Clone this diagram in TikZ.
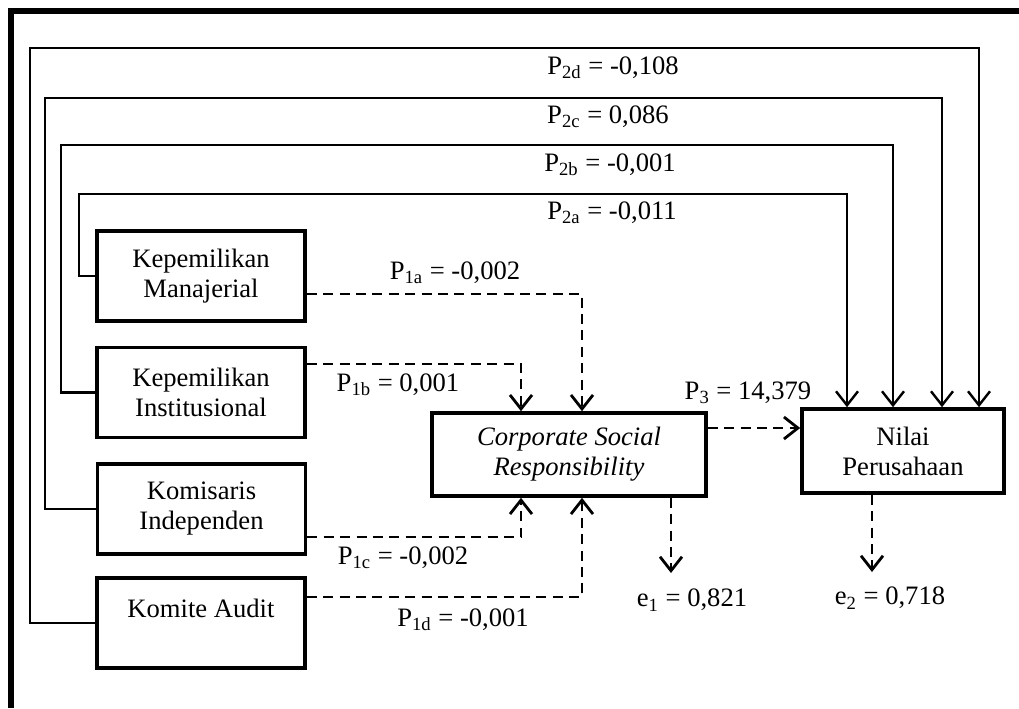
\documentclass[tikz,border=0pt]{standalone}
\usepackage{fontspec}
\setmainfont{Liberation Serif}
\usepackage{tikz}
\usetikzlibrary{calc}
\usetikzlibrary{arrows.meta}

\begin{document}
\begin{tikzpicture}[x=0.5pt, y=-0.5pt,
        every node/.style={font=\fontsize{13.3}{15}\selectfont},
        var/.style={draw, line width=1.8pt, align=center, inner sep=0pt,
            minimum width=104pt, minimum height=45pt},
        lbl/.style={inner sep=0pt},
        direct/.style={line width=1.2pt, -{Straight Barb[length=7pt, width=11pt]}},
        indirect/.style={direct, line width=1.4pt, dash pattern=on 5pt off 3.2pt}]

        \useasboundingbox (0,0) rectangle (1019,708);
        \draw[line width=2.6pt] (11,708) -- (11,11) -- (1019,11);

        \node[var] (km)   at (201,276) {Kepemilikan\\Manajerial};
        \node[var] (ki)   at (201,392.5) {Kepemilikan\\Institusional};
        \node[var] (kind) at (201.5,509) {Komisaris\\Independen};
        \node[var] (ka)   at (201,623) {Komite Audit\\~};

        \node[var, minimum width=137pt, minimum height=41.5pt] (csr) at (569,454.5)
            {\textit{Corporate Social}\\\textit{Responsibility}};
        \node[var, minimum width=101pt, minimum height=42pt] (nilai) at (903,451)
            {Nilai\\Perusahaan};

        \coordinate (e1tip) at (671,573);
        \coordinate (e2tip) at (872,572);

        % direct paths to Nilai Perusahaan
        \draw[direct] (km.west) -| (79,194) -| (nilai.north -| 847,0);
        \draw[direct] (ki.west) -| (61,145) -| (nilai.north -| 893,0);
        \draw[direct] (kind.west) -| (45,98) -| (nilai.north -| 942,0);
        \draw[direct] (ka.west) -| (30,48) -| (nilai.north -| 979,0);

        % paths through CSR
        \draw[indirect] ([yshift=-9pt]km.east) -| ([xshift=6.5pt]csr.north);
        \draw[indirect] ([yshift=14.25pt]ki.east) -| ([xshift=-24pt]csr.north);
        \draw[indirect] ([yshift=-14pt]kind.east) -| ([xshift=-24pt]csr.south);
        \draw[indirect] ([yshift=13pt]ka.east) -| ([xshift=6.5pt]csr.south);
        \draw[indirect] ([yshift=13.25pt]csr.east) -- ([yshift=13.25pt]csr.east -| nilai.west);
        \draw[indirect] (csr.south -| e1tip) -- (e1tip);
        \draw[indirect] (nilai.south -| e2tip) -- (e2tip);

        \node[lbl] (p2d) at (613,68)  {P\textsubscript{2d} = -0,108};
        \node[lbl] (p2c) at (608,117) {P\textsubscript{2c} = 0,086};
        \node[lbl] (p2b) at (610,165) {P\textsubscript{2b} = -0,001};
        \node[lbl] (p2a) at (612,213) {P\textsubscript{2a} = -0,011};
        \node[lbl] (p1a) at (455,273) {P\textsubscript{1a} = -0,002};
        \node[lbl] (p1b) at (398,385) {P\textsubscript{1b} = 0,001};
        \node[lbl] (p1c) at (403,558) {P\textsubscript{1c} = -0,002};
        \node[lbl] (p1d) at (463,620) {P\textsubscript{1d} = -0,001};
        \node[lbl] (p3)  at (748,393) {P\textsubscript{3} = 14,379};
        \node[lbl] (e1)  at (692,600) {e\textsubscript{1} = 0,821};
        \node[lbl] (e2)  at (890,598) {e\textsubscript{2} = 0,718};

      \end{tikzpicture}
\end{document}
